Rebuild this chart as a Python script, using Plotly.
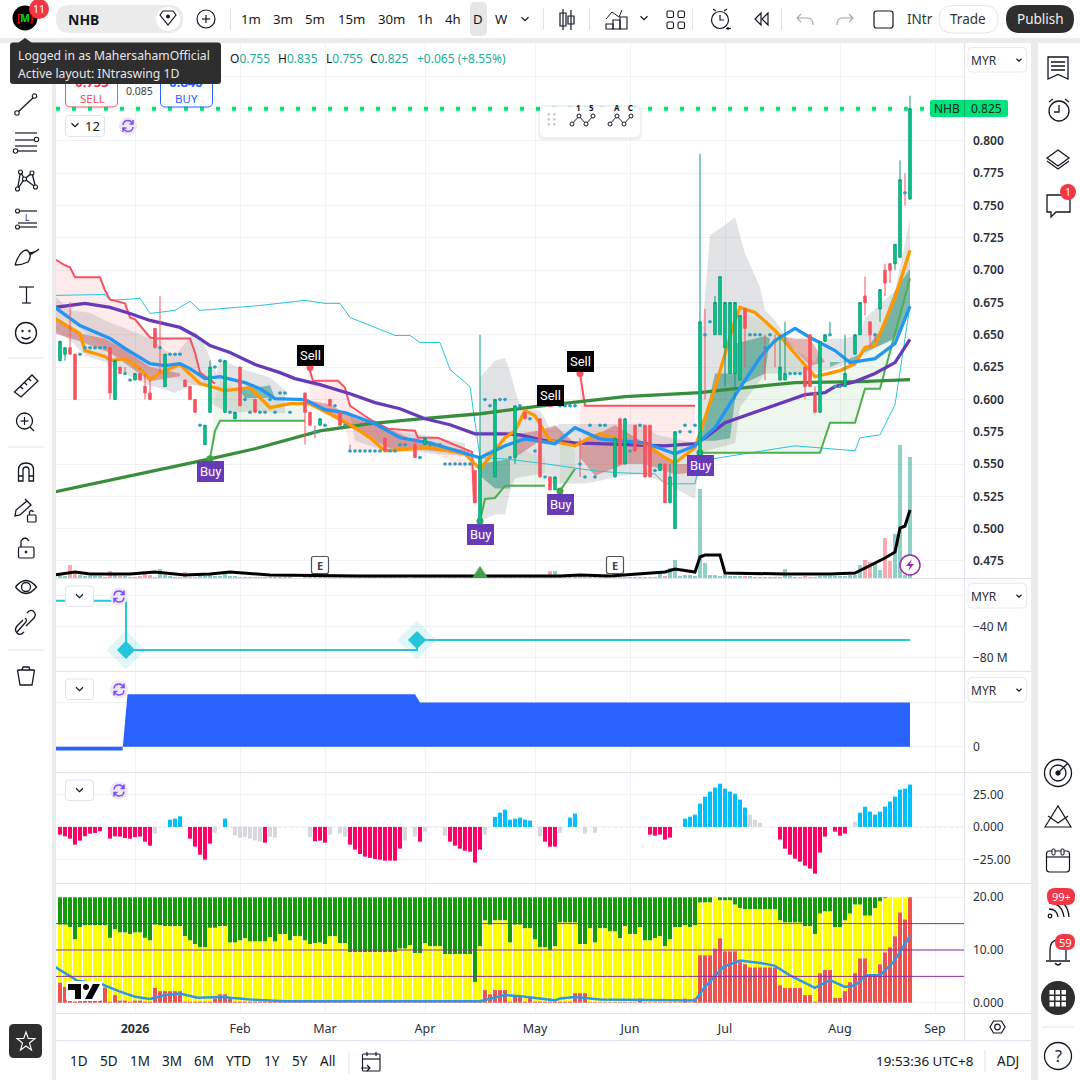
import plotly.graph_objects as go
N=None
# ---------- price bars ----------
opens=[.63,.635,.64,.635,.635,.64,.64,.64,.64,.64,
.64,.60,.625,.62,.615,.615,.62,.61,.605,.655,
.64,.61,.635,.635,.635,.615,.61,.60,.58,.565,
.59,.625,.63,.59,.59,.585,.625,.60,.59,.60,
.59,.59,.60,.59,.605,.605,.59,N,N,.605,
.59,.575,.58,.58,.60,.595,.59,.58,.56,.56,
.56,.56,.56,.56,.56,.57,.56,.56,.565,.565,
N,.565,.555,.565,.565,.565,.565,.55,.55,.55,
.55,.55,.55,.545,.50,.60,.595,.54,.60,.60,
.555,.555,.595,.59,.585,.56,.585,.54,.54,.53,
.595,.595,.595,.595,.55,.54,.58,.54,.58,.58,
N,.54,.585,.55,.56,.58,.58,.58,.58,.545,
.545,.55,.52,.50,.575,.58,.575,.58,.55,.65,
.66,.65,.65,.64,.62,.62,.615,.67,.65,.65,
.65,.64,.65,.645,.615,.615,.62,.62,.62,.625,
.65,.605,.59,.645,.65,.61,.61,.61,N,.635,
.65,.68,.66,.65,.67,.70,.705,.705,.71,.76,
.755]
highs=[.645,.64,.675,.635,.635,.64,.64,.64,.64,.64,
.64,.63,.625,.625,.615,.62,.62,.62,.615,.655,
.68,.635,.635,.635,.635,.615,.61,.60,.58,.58,
.63,.625,.63,.63,.59,.59,.625,.60,.59,.60,
.59,.59,.60,.59,.605,.605,.59,N,N,.605,
.59,.58,.585,.58,.60,.595,.59,.58,.565,.56,
.56,.56,.56,.56,.56,.57,.56,.56,.565,.565,
N,.57,.555,.57,.565,.565,.565,.55,.55,.55,
.55,.55,.55,.545,.65,.60,.595,.60,.60,.60,
.555,.595,.595,.59,.585,.56,.585,.54,.54,.54,
.595,.595,.595,.595,.57,.54,.58,.54,.58,.58,
N,.57,.585,.585,.56,.58,.58,.58,.58,.545,
.55,.55,.55,.575,.575,.58,.575,.58,.79,.67,
.66,.68,.695,.675,.675,.675,.665,.67,.65,.65,
.65,.65,.65,.65,.65,.66,.62,.62,.62,.625,
.65,.61,.645,.65,.66,.61,.61,.65,N,.65,
.675,.695,.66,.65,.685,.705,.705,.72,.785,.775,
.835]
lows=[.63,.63,.635,.60,.635,.64,.64,.64,.64,.64,
.60,.60,.62,.62,.615,.615,.615,.60,.60,.64,
.62,.61,.635,.635,.635,.61,.60,.59,.58,.565,
.59,.625,.63,.59,.59,.585,.595,.60,.59,.59,
.59,.59,.60,.59,.605,.605,.59,N,N,.565,
.58,.57,.58,.58,.595,.595,.58,.58,.56,.56,
.56,.56,.56,.56,.56,.56,.56,.56,.565,.565,
N,.555,.555,.565,.565,.565,.565,.55,.55,.55,
.55,.55,.55,.52,.50,.60,.595,.54,.60,.60,
.555,.55,.595,.585,.585,.56,.54,.54,.53,.53,
.595,.595,.595,.595,.54,.54,.58,.54,.58,.58,
N,.54,.55,.55,.56,.56,.58,.54,.54,.545,
.545,.52,.52,.50,.575,.58,.575,.58,.55,.60,
.66,.65,.65,.61,.62,.60,.615,.625,.65,.65,
.65,.615,.65,.625,.615,.615,.62,.62,.62,.60,
.61,.59,.59,.645,.65,.61,.61,.61,N,.635,
.65,.665,.64,.645,.66,.68,.69,.70,.71,.75,
.755]
closes=[.645,.64,.635,.60,.635,.64,.64,.64,.64,.64,
.605,.63,.62,.62,.615,.62,.615,.605,.60,.64,
.64,.635,.635,.635,.635,.61,.60,.59,.58,.58,
.625,.625,.63,.63,.59,.59,.595,.60,.59,.59,
.59,.59,.60,.59,.605,.605,.59,N,N,.59,
.58,.575,.585,.58,.595,.595,.58,.58,.56,.56,
.56,.56,.56,.56,.56,.56,.56,.56,.565,.565,
N,.555,.555,.57,.565,.565,.565,.55,.55,.55,
.55,.55,.55,.52,.555,.60,.595,.60,.60,.60,
.555,.595,.595,.585,.585,.56,.54,.54,.53,.54,
.595,.595,.595,.595,.55,.54,.58,.54,.58,.58,
N,.57,.55,.585,.56,.56,.58,.54,.54,.545,
.55,.52,.54,.575,.575,.58,.575,.58,.66,.65,
.66,.675,.695,.675,.675,.675,.665,.655,.65,.65,
.65,.64,.65,.645,.625,.62,.62,.62,.62,.61,
.61,.59,.645,.65,.65,.61,.61,.62,N,.65,
.675,.675,.65,.65,.685,.69,.70,.72,.77,.76,
.825]
volumes=[5,2,13,4,3,2,2,2,2,1,7,3,2,2,1,1,2,7,3,1,
9,3,2,1,1,6,1,1,2,2,5,2,2,4,2,2,1,1,1,1,
1,1,1,1,1,1,1,0,0,3,2,1,1,1,1,2,2,3,1,1,
1,1,1,1,1,1,1,1,1,1,0,1,1,1,1,1,1,1,1,1,
1,1,1,2,4,2,2,1,1,1,1,2,1,1,1,1,1,1,7,7,
1,2,1,2,1,1,1,1,1,1,0,1,1,1,1,1,1,1,1,1,
5,2,10,18,2,3,3,2,89,15,3,3,2,3,2,2,2,2,2,1,
1,1,1,1,1,9,2,1,1,2,1,1,2,2,2,2,2,2,3,3,
13,18,16,16,8,40,17,44,133,3,121]
accum_x=[-1,3,6,10,14,19,25,30,34,42,60,100,104,110,121,123,127,128,129,132,133,145,154,159,163,165,167,168,169,170]
accum_y=[3,6,4,4,4,6,3,4,6,3,2,2,3,2,6,9,6,21,23,23,5,4,4,5,15,20,26,50,52,68]
# ---------- moving averages and ribbons ----------
sma_slow_x=[-1,19,30,39,52,62,72,84,95,113,128,135,147,160,170]
sma_slow_y=[.5285,.5447,.554,.5618,.5757,.5812,.585,.5889,.5944,.6021,.6052,.6083,.613,.6138,.6153]
ma_purple_x=[-1,5,10,14,18,24,27,30,34,39,44,47,52,58,63,68,73,78,83,89,92,97,103,110,121,127,129,133,137,144,149,153,155,159,163,167,170]
ma_purple_y=[.6712,.6743,.6712,.6665,.6611,.6557,.6495,.6417,.6363,.627,.6207,.6161,.6114,.6044,.5975,.5928,.585,.5804,.5734,.5734,.5726,.568,.5664,.5657,.5641,.5657,.5703,.5819,.5874,.5967,.6037,.6052,.6099,.6138,.62,.6285,.6464]
ma_blue_x=[-1,4,10,13,18,21,24,26,29,32,37,40,43,49,53,57,63,68,74,78,84,89,93,99,103,108,117,123,127,131,135,140,143,147,150,155,158,163,167,170]
ma_blue_y=[.6712,.6572,.6471,.6394,.6277,.6262,.6277,.6238,.6161,.6176,.613,.6083,.6006,.5998,.592,.5897,.5812,.5703,.5664,.5618,.5548,.5641,.5695,.5657,.5781,.5695,.5664,.5579,.5641,.5781,.6029,.6324,.6456,.6549,.6479,.6378,.6285,.6316,.6432,.672]
ma_orange_x=[-1,4,5,9,10,13,16,18,20,24,28,33,38,42,46,50,54,59,62,65,70,74,81,84,89,91,93,95,98,103,106,108,113,117,121,123,127,131,135,136,139,143,147,150,151,156,159,161,163,167,170]
ma_orange_y=[.6627,.651,.6378,.6332,.63,.6316,.6238,.6153,.6207,.627,.6122,.6068,.6091,.5936,.5967,.5967,.5889,.5781,.5703,.5602,.5618,.5626,.5579,.5462,.5703,.5757,.5913,.5874,.568,.5641,.5703,.5734,.568,.5657,.5548,.5509,.5626,.6091,.6611,.6712,.6673,.6533,.6355,.6223,.6176,.6223,.6277,.6401,.6417,.6789,.7154]
stop_red_x=[-1,1,2,3,8,9,10,13,14,15,18,19,26,27,28,31,N,49.8,50.6,55.6,57,58,62.4,65.6,71,71.6,75.6,78.4,82.4,82.8,N,104,105,127]
stop_red_y=[.7084,.7038,.7022,.6945,.6945,.6844,.6774,.6743,.6634,.6619,.6479,.6471,.6471,.6363,.6207,.6122,N,.6246,.6145,.6145,.6091,.5951,.5835,.5773,.5757,.5703,.5703,.5657,.5594,.5199,N,.62,.5951,.5951]
stop_green_x=[30,31,32,49,N,84,85,87,89,97,N,100,103,N,128,152,154,159,161,164,170]
stop_green_y=[.554,.5757,.5835,.5835,N,.5059,.523,.5237,.5331,.5331,N,.5292,.5462,N,.5587,.5587,.5819,.5819,.6083,.6083,.6937]
channel_x=[-1,9,10,16,18,23,26,28,40,45,49,53,56,58,67,70,72,76,78,82,84,89,97,107,112,119,121,127,128,147,159,160,164,167,170]
channel_y=[.6805,.6812,.6766,.6782,.6665,.6689,.6759,.6689,.6727,.675,.6766,.6743,.6743,.6634,.6495,.6495,.644,.644,.6231,.6099,.5548,.554,.5502,.5447,.5432,.5424,.5347,.5347,.5525,.5641,.5602,.5703,.5726,.5959,.6727]
pink_x=[-1,1,2,3,8,9,10,13,14,15,18,19,26,27,28,31,28,20,18,13,9,4,-1,N,
49.8,50.6,55.6,57,58,62.4,65.6,71,71.6,75.6,78.4,82.4,82.8,82,78,74,66,59,58,57,52,50,N,
104,105,127,127,123,121,113,105,104]
pink_y=[.7084,.7038,.7022,.6945,.6945,.6844,.6774,.6743,.6634,.6619,.6479,.6471,.6471,.6363,.6207,.6122,.61,.62,.625,.63,.64,.655,.665,N,
.6246,.6145,.6145,.6091,.5951,.5835,.5773,.5757,.5703,.5703,.5657,.5594,.5199,.545,.552,.56,.56,.56,.562,.58,.595,.59,N,
.62,.5951,.5951,.56,.555,.555,.565,.565,.58]
mint_x=[30,32,49,49,40,32,31,N,84,85,87,89,97,97,89,85,N,100,103,103,100,N,
128,152,154,159,161,164,170,170,167,163,159,156,151,147,143,136,131]
mint_y=[.554,.5835,.5835,.60,.60,.615,.60,N,.5059,.523,.5237,.5331,.5331,.555,.565,.56,N,.5292,.5462,.56,.575,N,
.5587,.5587,.5819,.5819,.6083,.6083,.6937,.72,.68,.6417,.6277,.6223,.6176,.6355,.6533,.67,.61]
haze_x=[-1,2,6,9,13,18,21,23,27,29,31,32,29,26,23,18,14,9,5,2,-1,N,
32,36,42,45,45,39,34,30,N,
58,62,66,72,81,81,72,65,59,N,
84,87,89,90,91,92,96,97,98,100,110,117,119,127,128,127,121,117,112,108,105,98,97,91,90,89,87,84,N,
128,130,133,135,137,140,141,143,147,151,153,157,160,161,167,170,170,167,163,159,153,151,147,141,136,135,128]
haze_y=[.680,.669,.667,.661,.655,.647,.638,.634,.653,.642,.622,.616,.611,.611,.605,.611,.618,.629,.634,.646,.653,N,
.632,.624,.617,.607,.589,.591,.589,.597,N,
.589,.586,.576,.573,.566,.556,.559,.560,.568,N,
.617,.630,.632,.622,.607,.595,.591,.585,.577,.581,.581,.581,.573,.566,.560,.523,.535,.542,.541,.537,.535,.535,.543,.539,.529,.511,.511,.506,N,
.632,.727,.735,.741,.713,.687,.669,.661,.638,.629,.647,.647,.651,.663,.684,.739,.671,.648,.640,.629,.622,.620,.620,.620,.594,.566,.559]
teal_x=[84,90,90,87,84,N,128,131,135,135,134,131,N,135,141,142,141,135,N,154,159,161,164,167,170,170,167,163,154,N,36,42,43,37]
teal_y=[.550,.554,.531,.531,.541,N,.568,.620,.620,.600,.570,.568,N,.643,.649,.647,.620,.609,N,.629,.629,.638,.653,.684,.701,.671,.647,.640,.625,N,.607,.611,.601,.601]
rose_x=[-1,4,9,13,18,24,24,18,13,10,4,-1,N,49,54,59,66,71,82,82,72,66,62,57,50,N,91,96,99,103,96,91,N,104,111,117,123,127,126,123,117,113,107,104,N,144,147,150,153,150,147]
rose_y=[.661,.651,.647,.638,.625,.620,.618,.614,.628,.636,.645,.651,N,.600,.596,.585,.577,.568,.560,.558,.561,.562,.570,.581,.595,N,.573,.576,.580,.566,.568,.555,N,.566,.580,.566,.550,.550,.543,.542,.550,.550,.541,.555,N,.649,.647,.647,.629,.626,.638]
buy_labels_x=[30,84,100,128]
buy_labels_y=[.5439,.4958,.5183,.5486]
buy_dots_y=[.554,.5059,.5292,.5587]
sell_labels_x=[50,98,104]
sell_labels_y=[.6339,.6029,.6293]
sell_dots_y=[.6246,.5967,.62]
# ---------- lower panes ----------
flow_x=[-1,13.2,71.4,170]
flow_y=[-7.3,-70,-57.3,-57.3]
flow_mark_x=[13.2,71.4]
flow_mark_y=[-70,-57.3]
cap_x=[-1,12.5,13.5,71,72,170]
cap_y=[-5,-5,70,70,59,59]
momentum=[-5.9,-7.2,-9,-13.6,-10.5,-7.2,-5.1,-4.6,-3.3,0,
-9,-7.2,-7.4,-8.5,-9,-7.9,-7.4,-11.3,-14.4,-5.1,
0,0,5.6,6.4,8.2,0,-9,-15.1,-21.3,-25.1,
-12.8,-4.4,0,6.4,0,-6.4,-8.2,-7.7,-9,-10.3,
-11.3,-12.1,-7.4,-8.2,0,0,0,0,0,0,
-7.9,-11,-10.5,-12.1,-5.9,0,-4.9,-7.4,-13.6,-17.4,
-20.8,-22.8,-23.8,-24.6,-25.1,-25.9,-25.9,-25.9,-16.7,-10.3,
0,-7.4,-11.3,-3.6,0,0,0,-6.7,-11.3,-14.4,
-16.7,-18.2,-19,-27.4,-17.4,-5.9,0,7.7,11,13.3,
5.6,6.4,7.2,5.6,4.9,0,-7.2,-11.3,-15.1,-15.1,
-4.4,0,7.2,10.3,0,-5.1,0,-4.4,0,0,
0,0,0,0,0,0,0,0,-5.9,-6.7,
-5.9,-9.7,-8.2,0,0,6.4,7.9,9.5,18,23.3,
27.2,30.3,33.3,29.5,27.2,25.6,21,14.9,9.5,5.6,
3.3,0,0,0,-9.7,-16.7,-21.3,-24.4,-26.7,-29.7,
-32,-35.9,-19.7,-7.4,0,-3.6,-6.7,-5.1,0,4.1,
11,15.6,11.8,9.5,11.8,15.6,19.5,23.3,28.7,29.5,
32.6]
momentum_flat=[19,31,35,36,37,38,39,40,42,43,50,54,56,57,69,71,73,77,85,96,100,105,107,138,139,140,159]
stack_red=[3.8,3,1.9,.2,.5,.4,.4,.4,3,2.9,
.2,1.45,.4,.4,.2,.4,.4,.2,.2,2.8,
2.2,2.2,2.2,2.2,2.2,.2,.2,.2,.2,.2,
.2,.8,1.6,1.6,.8,.2,.2,.2,.2,.2,
.2,.2,.2,.2,.2,.2,.2,.2,.2,.2,
.2,.2,.2,.2,.2,.2,.2,.2,.2,.2,
.2,.2,.2,.2,.2,.2,.2,.2,.2,.2,
.2,.2,.2,.2,.2,.2,.2,.2,.2,.2,
.2,.2,.2,.2,.2,2.4,1.6,2.4,2.4,2.4,
.2,1.25,1.25,.2,1.1,.2,.2,.2,.2,.2,
.2,.2,.2,1.8,1.8,1.8,.1,.1,.1,.1,
.1,.1,.1,.1,.1,.1,.8,.1,.1,.1,
.1,.1,.1,.1,.1,.8,.1,.8,9,9,
9,10.25,12.2,9.75,9.75,9.75,7.7,7.3,6.7,6.7,
6.7,6.7,6.7,6.7,3.3,2.8,2.8,2.8,2.8,1.45,
1.45,.2,5.6,6.2,6.2,.9,.9,2.2,3.9,5.6,
8.4,8.4,5.2,5.2,7.3,9.55,10.5,12.6,17.1,15.8,
20]
stack_yellow_top=[14.8,14.8,14.3,12,14.3,14.65,14.65,14.65,14.65,14.65,
12.3,13.9,13.3,13.3,13,13.3,13.3,12.3,11.8,14.8,
14.65,14.5,14.5,14.5,14.5,12.6,11.8,11.1,10.5,10.5,
14.2,14.2,14.5,14.5,11.4,11.4,11.8,12.2,11.6,11.6,
11.6,11.6,12.4,11.6,13,13,11.8,12.6,12.6,11.8,
11.1,11.3,11.4,11.1,12.6,12.6,11.3,11.3,9.6,9.6,
9.6,9.6,9.6,9.6,9.6,9.6,9.6,9.6,10.25,10.25,
10.9,9.4,9.4,11.3,10.7,10.7,10.7,9.2,9.2,9.2,
9.2,9.2,9.2,3.9,10.7,15.6,14.8,15.6,15.6,15.6,
11.4,14.8,14.8,14.1,14.1,12,10.5,10.5,9.9,10.7,
15.2,15.2,15.2,15.2,11.1,11.1,14.1,11.4,14.1,14.1,
13.5,13.5,12.2,14.5,13,13,14.3,11.8,11.8,12.2,
12.6,10.7,12,14.3,14.3,14.65,14.3,14.65,19,19,
19,20,19.4,19.4,19.4,18.6,17.9,17.7,17.7,17.7,
17.7,17.7,17.7,17.7,15.6,15.2,15.2,15.2,15.2,14.5,
14.5,13,16.9,17.3,17.3,14.3,14.3,15.6,16.9,18.6,
18.6,16.5,16.5,17.9,19.2,19.8,20,20,20,20,
20]
stack_total=20
strength_x=[-1,2,3.5,8,12,15,18,21,24,27.5,32.5,38,45,84,89,92,95,99,100,103,108,127,129,132.7,136,140,143,146,151,154,157,159,161.3,164,166.7,170]
strength_y=[6.8,5,4.15,3.65,2.1,1.15,.7,1.45,1.75,.95,1.1,.6,.3,.3,1.45,1.25,.95,.45,.8,1.1,.6,.4,3,6.8,8,7.55,7,5.2,2.8,4.3,3,3.3,5.2,5.2,7.75,12.6]
# ---------- axis labels ----------
month_pos=[15,36,53,73,95,114,133,156,175]
month_labels=['<b>2026</b>','Feb','Mar','Apr','May','Jun','Jul','Aug','Sep']
price_ticks=[.475,.5,.525,.55,.575,.6,.625,.65,.675,.7,.725,.75,.775,.8,.825,.85]
price_labels=['0.475','0.500','0.525','0.550','0.575','0.600','0.625','0.650','0.675','0.700','0.725','0.750','0.775','0.800','','']

DARK='#131722'; FONT='Noto Sans'
idx=list(range(len(closes)))
live=[i for i in idx if closes[i] is not None]
doji=[i for i in live if opens[i]==closes[i]]

def dom(top,bottom): return [1-bottom/1080,1-top/1080]
def p(x,y): return x/1080,1-y/1080
shapes=[];ann=[]
def path(d,color=DARK,w=1.3,fill=None,layer='above'):
    out=[];isx=True
    for t in d.split():
        if t.isalpha(): out.append(t)
        else:
            out.append(str(float(t)/1080 if isx else 1-float(t)/1080)); isx=not isx
    shapes.append(dict(type='path',xref='paper',yref='paper',path=' '.join(out),line=dict(color=color,width=w) if w else dict(width=0),fillcolor=fill or 'rgba(0,0,0,0)',layer=layer))
def circ(cx,cy,r,color=DARK,w=1.3,fill=None):
    shapes.append(dict(type='circle',xref='paper',yref='paper',x0=(cx-r)/1080,x1=(cx+r)/1080,y0=1-(cy+r)/1080,y1=1-(cy-r)/1080,line=dict(color=color,width=w) if w else dict(width=0),fillcolor=fill or 'rgba(0,0,0,0)'))
def rrect(x0,y0,x1,y1,r,fill=None,color=None,w=1,layer='above'):
    d=f"M {x0+r} {y0} L {x1-r} {y0} Q {x1} {y0} {x1} {y0+r} L {x1} {y1-r} Q {x1} {y1} {x1-r} {y1} L {x0+r} {y1} Q {x0} {y1} {x0} {y1-r} L {x0} {y0+r} Q {x0} {y0} {x0+r} {y0} Z"
    path(d,color or 'rgba(0,0,0,0)',w if color else 0,fill,layer)
def T(x,y,s,size=13,color=DARK,anchor='center',family=FONT):
    px,py=p(x,y)
    ann.append(dict(xref='paper',yref='paper',x=px,y=py,text=s,showarrow=False,xanchor=anchor,yanchor='middle',font=dict(size=size,color=color,family=family),borderpad=0,borderwidth=0))
def chev(x,y,s=3.5,color=DARK,w=1.2): path(f"M {x-s} {y-s/2} L {x} {y+s/2} L {x+s} {y-s/2}",color,w)
def line(x0,y0,x1,y1,color=DARK,w=1.2): path(f"M {x0} {y0} L {x1} {y1}",color,w)
def sync(cx,cy):
    c='#7C4DFF'
    circ(cx,cy,9,'#EDE7F6',0,'#EDE7F6')
    path(f"M {cx-5} {cy-1} Q {cx-4.5} {cy-5.5} {cx} {cy-5.5} Q {cx+3} {cy-5.5} {cx+4.5} {cy-2.5} M {cx+5} {cy-6} L {cx+5} {cy-2} L {cx+1.5} {cy-2}",c,1.5)
    path(f"M {cx+5} {cy+1} Q {cx+4.5} {cy+5.5} {cx} {cy+5.5} Q {cx-3} {cy+5.5} {cx-4.5} {cy+2.5} M {cx-5} {cy+6} L {cx-5} {cy+2} L {cx-1.5} {cy+2}",c,1.5)

# panels
for r in [(0,0,1080,38),(0,43,52,1080),(964,43,1031,1040),(56,1013,1031,1080),(1038,43,1080,1080)]:
    shapes.append(dict(type='rect',xref='paper',yref='paper',x0=r[0]/1080,x1=r[2]/1080,y0=1-r[3]/1080,y1=1-r[1]/1080,fillcolor='white',line=dict(width=0),layer='below'))
# pane separators
for y in [578.5,671.5,772.5,883.5,1013.5,1040.5]:
    line(56,y,1031,y,'#E0E3EB',1.2)
line(964.5,43,964.5,1040,'#E0E3EB',1.2)
# last-price dotted line
shapes.append(dict(type='line',xref='x domain',yref='y',x0=0,x1=1,y0=closes[-1],y1=closes[-1],line=dict(color='#00E676',width=4,dash='4px,12px'),layer='above'))
# pane 5 guide lines
for v in [5,10,15]:
    shapes.append(dict(type='line',xref='x5 domain',yref='y5',x0=0,x1=1,y0=v,y1=v,line=dict(color='#882B9C',width=1),layer='above'))
shapes.append(dict(type='line',xref='x4 domain',yref='y4',x0=0,x1=1,y0=0,y1=0,line=dict(color='#D8DAE0',width=1,dash='3px,3px'),layer='below'))

fig=go.Figure()
SK=dict(hoverinfo='skip',showlegend=False)
def poly(x,y,color,ax=('x','y')):
    fig.add_trace(go.Scatter(x=x,y=y,mode='none',fill='toself',fillcolor=color,xaxis=ax[0],yaxis=ax[1],**SK))
def ln(x,y,color,w,ax=('x','y'),**kw):
    fig.add_trace(go.Scatter(x=x,y=y,mode='lines',line=dict(color=color,width=w,**kw),xaxis=ax[0],yaxis=ax[1],connectgaps=False,**SK))
poly(haze_x,haze_y,'rgba(110,115,120,0.20)')
poly(pink_x,pink_y,'rgba(247,82,95,0.11)')
poly(mint_x,mint_y,'rgba(76,175,80,0.10)')
poly(rose_x,rose_y,'rgba(190,50,50,0.38)')
poly(teal_x,teal_y,'rgba(8,130,110,0.45)')
ln(channel_x,channel_y,'#26C6DA',1)
ln(stop_red_x,stop_red_y,'#F7525F',2)
ln(stop_green_x,stop_green_y,'#4CAF50',2)
ln(sma_slow_x,sma_slow_y,'#388E3C',3.3)
ln(ma_purple_x,ma_purple_y,'#673AB7',3.3)
ln(ma_orange_x,ma_orange_y,'#FF9800',3.3)
ln(ma_blue_x,ma_blue_y,'#2196F3',3.3)
fig.add_trace(go.Scatter(x=buy_labels_x,y=buy_dots_y,mode='markers',marker=dict(color='#43A047',size=7),**SK))
fig.add_trace(go.Scatter(x=sell_labels_x,y=sell_dots_y,mode='markers',marker=dict(color='#F7525F',size=7),**SK))
# volume and accumulation (own scale)
vc=['rgba(247,82,95,0.5)' if (closes[i] is not None and closes[i]<opens[i]) else 'rgba(8,153,129,0.45)' for i in idx]
fig.add_trace(go.Bar(x=idx,y=volumes,width=0.8,marker=dict(color=vc,line=dict(width=0)),xaxis='x',yaxis='y6',**SK))
ln(accum_x,accum_y,'#000000',3,('x','y6'))
# candles (own overlay so they sit over the lines)
fig.add_trace(go.Candlestick(x=live,open=[opens[i] for i in live],high=[highs[i] for i in live],low=[lows[i] for i in live],close=[closes[i] for i in live],
    increasing=dict(line=dict(color='#089981',width=1),fillcolor='#00D27F'),decreasing=dict(line=dict(color='#F7525F',width=1),fillcolor='#F7525F'),
    whiskerwidth=0,xaxis='x',yaxis='y7',hoverinfo='skip',showlegend=False))
fig.add_trace(go.Scatter(x=doji,y=[closes[i] for i in doji],mode='markers',marker=dict(color='#2AA0C0',size=3.5),xaxis='x',yaxis='y7',**SK))
fig.add_trace(go.Scatter(x=[6.4,25.2],y=[.8442,.8442],mode='text',text=['0.755','0.840'],textfont=dict(color=['#F23645','#2962FF'],size=13,family=FONT,weight=700),xaxis='x',yaxis='y7',**SK))
# pane 2
fig.add_trace(go.Scatter(x=flow_mark_x,y=flow_mark_y,mode='markers',marker=dict(symbol='diamond',size=30,color='rgba(38,198,218,0.15)'),xaxis='x2',yaxis='y2',**SK))
ln(flow_x,flow_y,'#26C6DA',2,('x2','y2'),shape='hv')
fig.add_trace(go.Scatter(x=flow_mark_x,y=flow_mark_y,mode='markers',marker=dict(symbol='diamond',size=14,color='#26C6DA'),xaxis='x2',yaxis='y2',**SK))
# pane 3
fig.add_trace(go.Scatter(x=cap_x,y=cap_y,mode='lines',line=dict(width=0),fill='tozeroy',fillcolor='#2962FF',xaxis='x3',yaxis='y3',**SK))
# pane 4
mc=['#D6D8DC' if i in momentum_flat else ('#00BFFF' if momentum[i]>0 else '#FF0066') for i in idx]
fig.add_trace(go.Bar(x=idx,y=momentum,width=0.8,marker=dict(color=mc,line=dict(width=0)),xaxis='x4',yaxis='y4',**SK))
# pane 5
fig.add_trace(go.Bar(x=idx,y=[stack_total-v for v in stack_yellow_top],base=stack_yellow_top,width=0.8,marker=dict(color='#159A09',line=dict(width=0)),xaxis='x5',yaxis='y5',**SK))
fig.add_trace(go.Bar(x=idx,y=[stack_yellow_top[i]-stack_red[i] for i in idx],base=stack_red,width=0.8,marker=dict(color='#FFFF00',line=dict(width=0)),xaxis='x5',yaxis='y5',**SK))
fig.add_trace(go.Bar(x=idx,y=stack_red,base=0,width=0.8,marker=dict(color='#EF5350',line=dict(width=0)),xaxis='x5',yaxis='y5',**SK))
ln(strength_x,strength_y,'#2F96E8',2.5,('x5','y5'))

# data-anchored labels
for x,y in zip(buy_labels_x,buy_labels_y):
    ann.append(dict(xref='x',yref='y',x=x,y=y,text='Buy',showarrow=False,font=dict(color='white',size=13,family='Roboto'),bgcolor='#673AB7',borderpad=3,borderwidth=0))
for x,y in zip(sell_labels_x,sell_labels_y):
    ann.append(dict(xref='x',yref='y',x=x,y=y,text='Sell',showarrow=False,font=dict(color='white',size=13,family='Roboto'),bgcolor='#000000',borderpad=3,borderwidth=0))

# chart overlays
for xx in (320,615):
    rrect(311.5 if xx==320 else 606.5,556.5,328.5 if xx==320 else 623.5,573.5,2,'white','#555',1.2)
    T(xx,565,'<b>E</b>',11,'#444')
path("M 472 578 L 480 566 L 488 578 Z",'#43A047',0,'#43A047')
circ(910,565,10,'#9C27B0',1.5,'white')
path("M 912 559 L 906 566 L 910 566 L 908 571 L 914 564 L 910 564 Z",'#9C27B0',0,'#9C27B0')
# tv logo
rrect(66,981,102,1001,2,'white')
path("M 68 984 L 81 984 L 81 999 L 75 999 L 75 990 L 68 990 Z",'#000',0,'#000')
circ(86,987,3,'#000',0,'#000')
path("M 93 984 L 100 984 L 92 999 L 85 999 Z",'#000',0,'#000')
# price tag
rrect(930,100,966,117,2,'#00E37C')
rrect(964,100,1008,117,2,'#00E37C')
line(964.5,100,964.5,117,'#10B060',1)
T(947,108.5,'NHB',12,'#0A2A1A')
T(986,108.5,'0.825',12,'#0A2A1A')
# pane controls
rrect(65.5,115.5,104.5,136.5,3,'white','#E0E3EB')
chev(75,125); T(92,126,'12',13)
sync(128,126)
for yy in (596.5,689.5,790.5):
    rrect(65.5,yy-10.5,93.5,yy+10,3,'white','#E0E3EB')
    chev(79.5,yy-.5)
    sync(119,yy)
for y0 in (47.5,583.5,677.5):
    rrect(968,y0,1026.5,y0+24.5,4,'white','#E8EAEE')
    T(971,y0+12.5,'MYR',12,'#2A2E39','left')
    chev(1019,y0+12.5,2.5)
# hexagon
path("M 990 1027 L 993.5 1021 L 1001.5 1021 L 1005 1027 L 1001.5 1033 L 993.5 1033 Z",DARK,1.2)
circ(997.5,1027,2.8,DARK,1.2)
# floating drawing bar
rrect(538,105,642,140,6,'rgba(0,0,0,0.06)')
rrect(540,107,640,137,6,'white')
for dx in (547.5,553):
    for dy in (113,118,123):
        rrect(dx,dy,dx+2.5,dy+2.5,.5,'#C9CCD4')
for x0,lab in ((572,'1&nbsp;&nbsp;&nbsp;&nbsp;5'),(610,'A&nbsp;&nbsp;&nbsp;&nbsp;C')):
    path(f"M {x0} 124 L {x0+7} 116 L {x0+14} 124 L {x0+21} 116",DARK,1)
    for k,(ax,ay) in enumerate(((0,124),(7,116),(14,124),(21,116))):
        circ(x0+ax,ay,2,DARK,1,'white')
    T(x0+13,108,'<b>'+lab+'</b>',8,DARK)
# OHLC
V='#22AB94'
for x,l,v in ((230,'O','0.755'),(278,'H','0.835'),(325.5,'L','0.755'),(370,'C','0.825')):
    T(x,59,f'{l}<span style="color:{V}">{v}</span>',12,DARK,'left')
T(417,59,'+0.065 (+8.55%)',12,V,'left')
# quick trade boxes
rrect(65.5,75,117.5,107,5,None,'#F7525F')
rrect(160.5,75,212.5,107,5,None,'#2962FF')
T(92,98.5,'SELL',11.5,'#F7525F'); T(186,98.5,'BUY',11.5,'#2962FF'); T(139,91,'0.085',10.5,'#444')
# tooltip
rrect(10,42.5,221,84,3,'#2E2E2E')
path("M 18 43 L 25 38 L 32 43 Z",'#2E2E2E',0,'#2E2E2E')
T(18,55,'Logged in as MahersahamOfficial',12.2,'#E6E6E6','left'); T(18,73.5,'Active layout: INtraswing 1D',12.2,'#E6E6E6','left')
# header
circ(25,18,12.5,'#000',0,'#000')
T(25,18,'<span style="color:#F00"><b>[</b></span><b>M</b><span style="color:#F00"><b>]</b></span>',10,'#00E000')
circ(39,9,10,'#F23645',0,'#F23645'); T(39,9,'11',10.5,'white')
rrect(56,5,183,33,14,'#EBEBEB')
T(68,19,'<b>NHB</b>',14,DARK,'left')
circ(168,19,12,'white',0,'white')
path("M 160 15 L 163 11 L 173 11 L 176 15 L 168 25 Z",DARK,1.2); circ(168,16.5,2,DARK,0,DARK)
circ(206,19,9,DARK,1.2); line(202,19,210,19); line(206,15,206,23)
line(230.5,8,230.5,30,'#E0E3EB',1)
rrect(470,2,487,36,5,'#E6E6E6')
for x,s in ((251,'1m'),(283,'3m'),(315,'5m'),(351,'15m'),(391,'30m'),(425,'1h'),(453,'4h'),(478,'D'),(501,'W')):
    T(x,19,s,13.2,'#131722')
chev(525,19)
for x in (543,589,692,781): line(x+.5,8,x+.5,30,'#E0E3EB',1)
# candle icon
line(563,9,563,30); rrect(560,13,566,26,0,None,DARK,1.2); line(571,10,571,30); rrect(568,16,574,24,0,None,DARK,1.2)
# chart-type icon
path("M 606 19 L 612 12 L 619 17 L 622 10",DARK,1)
for a,b,c in ((606,613,24),(613,620,20),(620,627,17)):
    rrect(a,c,b,29,0,None,DARK,1.1)
chev(644,18,3.5)
for a in (667,678):
    for b in (11,22):
        rrect(a,b,a+6.5,b+6.5,1.5,None,DARK,1.1)
# alarm icon
circ(720,20,8.5,DARK,1.2); path("M 720 15 L 720 20 L 724 20",DARK,1.2); line(713,9,716,11); line(727,9,724,11); line(728,27,728,30); line(726,28.5,731,28.5)
path("M 761 13 L 755 19 L 761 25 Z",DARK,1.2); path("M 768 13 L 762 19 L 768 25 Z",DARK,1.2)
path("M 801 14 L 797 18 L 801 22 M 797 18 L 808 18 Q 813 18 813 25",'#A0A3AA',1.1)
path("M 849 14 L 853 18 L 849 22 M 853 18 L 842 18 Q 837 18 837 25",'#A0A3AA',1.1)
rrect(874,11,893,28,2.5,None,DARK,1.2)
T(907,19,'INtr',13.5,'#333','left')
rrect(939,5.5,998,33,13.5,'white','#E6E6E6')
T(968,19,'Trade',13.5,'#333')
rrect(1006,5,1074,33,14,'#2E2E2E')
T(1040,19,'Publish',13.5,'#F0F0F0')
# left tools
path("M 17.5 112.5 L 34.5 96.5"); circ(17,113,2.2,DARK,1.1,'white'); circ(34.5,96,2.2,DARK,1.1,'white')
for a,b,c in ((133,15,37),(140,15,34),(146,15,37),(151,18,37)): line(b,a,c,a)
circ(36.5,139.5,2.2,DARK,1.1,'white'); circ(15.5,151,2.2,DARK,1.1,'white')
path("M 17.5 189 L 20.5 172 L 24.5 179 L 32 173 L 35.5 187 L 24.5 179 L 17.5 189"); 
for a,b in ((17.5,189),(20.5,172),(24.5,179),(32,173),(35.5,187)): circ(a,b,2,DARK,1.1,'white')
line(17,211,37,211); line(18,223,37,223); line(17,227,37,227); circ(17.5,211,2,DARK,1.1,'white'); circ(17.5,227,2,DARK,1.1,'white'); T(27,217,'L',8)
path("M 15 265 Q 20 250 27 250 Q 33 255 28 262 Q 22 265 15 265 M 29 253 Q 35 253 39 249 M 34 252 Q 32 255 29 254")
line(19,287,34,287); line(26.5,287,26.5,303); line(22,303,31,303)
circ(26,333,10.5); circ(22.5,331,.8,DARK,1,DARK); circ(29.5,331,.8,DARK,1,DARK); path("M 21.5 337 Q 26 341 30.5 337")
line(8,358,44,358,'#E0E3EB',1)
path("M 14.5 392 L 32 375 L 38 381 L 21 397 Z M 20 386 L 23 389 M 24 382 L 27 385 M 28 378 L 31 381")
circ(24.5,421,8); line(20.5,421,28.5,421); line(24.5,417,24.5,425); line(30,427,34,431)
line(8,447,44,447,'#E0E3EB',1)
path("M 18.5 481 L 18.5 470 Q 18.5 463 26 463 Q 33.5 463 33.5 470 L 33.5 481 L 29 481 L 29 470 Q 29 467 26 467 Q 23 467 23 470 L 23 481 Z M 18.5 476 L 23 476 M 29 476 L 33.5 476")
path("M 15 516 L 16 510 L 27 501 L 31 505 L 20 515 Z M 27 501 L 25 499"); rrect(27.5,515,36,522,1,None,DARK,1.2); path("M 29.5 515 L 29.5 512 Q 31.5 509 33.5 512")
rrect(18.5,547,34,558,1.5,None,DARK,1.2); path("M 21 547 L 21 541 Q 25 535 29 541"); circ(26,552,1,DARK,1,DARK)
path("M 15.5 587 Q 26 574 36.5 587 Q 26 600 15.5 587"); circ(26,587,4.5)
path("M 17 632 L 25 623 Q 28 620 25 618 M 26 626 L 34 618 Q 37 614 33 611 Q 30 609 27 613 M 23 620 L 17 626 Q 14 630 17 633 Q 20 636 24 632")
line(8,650,44,650,'#E0E3EB',1)
path("M 17.5 670 L 20 685 L 32 685 L 34.5 670 M 17.5 670 L 34.5 670 M 22 670 L 23 667 L 29 667 L 30 670")
rrect(9,1024,42,1058,5,'#2E2E2E')
path("M 26 1032 L 28.3 1038.5 L 35 1038.5 L 29.5 1043 L 31.5 1050 L 26 1046 L 20.5 1050 L 22.5 1043 L 17 1038.5 L 23.7 1038.5 Z",'white',1.1)
# right tools
path("M 1048 57 L 1068 57 L 1068 79 L 1058 74.5 L 1048 79 Z M 1051 62 L 1065 62 M 1051 66 L 1065 66 M 1051 70 L 1065 70")
circ(1059,111,10); path("M 1059 105 L 1059 112 L 1054 112"); line(1049,102,1053,99); line(1069,102,1065,99)
path("M 1058 150 L 1069 158 L 1058 166 L 1047 158 Z M 1047 161 L 1058 169 L 1069 161")
path("M 1047 195 L 1070 195 L 1070 212 L 1056 212 L 1051 217 L 1051 212 L 1047 212 Z")
circ(1068,192,8,'#F23645',0,'#F23645'); T(1068,192,'1',10.5,'white')
circ(1058,773,13.5); circ(1058,773,8); circ(1058,773,2.2,DARK,1,DARK); line(1058,773,1068,763)
path("M 1045 827 L 1058 806 L 1071 827 Z M 1048 816 L 1058 823 L 1068 816",DARK,1.2,'white')
rrect(1046.5,851,1069.5,872,3,None,DARK,1.2); line(1047,857,1069,857); rrect(1052,849,1055,855,1,'white',DARK,1); rrect(1061,849,1064,855,1,'white',DARK,1)
circ(1050,916,1.8); path("M 1049 909 Q 1057 909 1058 917 M 1049 903 Q 1062 903 1064 917 M 1052 898 Q 1068 901 1069 917")
rrect(1047,888,1075,905,8,'#F23645'); T(1061,896,'99+',11,'white')
path("M 1050 960 L 1050 950 Q 1050 940 1058 940 Q 1066 940 1066 950 L 1066 960 M 1046 961 L 1070 961 M 1055 963 Q 1058 967 1061 963")
rrect(1055,934,1075,950,8,'#F23645'); T(1065,942,'59',11,'white')
circ(1058,998,17,'#2E2E2E',0,'#2E2E2E')
for a in (1049,1055,1061):
    for b in (990,996,1002):
        rrect(a+.5,b,a+5,b+4.5,.5,'white')
line(1042,1027,1074,1027,'#E0E3EB',1)
circ(1058,1056,13.5); T(1058,1056,'?',16,DARK)
# bottom bar
for x,s in ((79,'1D'),(109,'5D'),(140,'1M'),(172,'3M'),(204,'6M'),(238,'YTD'),(272,'1Y'),(300,'5Y'),(328,'All')):
    T(x,1061,s,13.5,'#131722')
line(349,1052,349,1074,'#E0E3EB',1)
rrect(362.5,1054,380,1071,1,None,DARK,1.1); line(362,1059,380,1059); line(367,1052,367,1056); line(376,1052,376,1056)
path("M 361 1068 L 370 1068 M 367 1065 L 370 1068 L 367 1071",DARK,1.1)
T(973,1061,'19:53:36 UTC+8',13.4,'#131722','right')
line(985,1050,985,1072,'#E0E3EB',1)
T(1008,1061,'ADJ',13.5,'#131722')

GRID='#F0F2F5'
xbase=dict(range=[-0.8,180.8],domain=[56/1080,964/1080],tickmode='array',tickvals=month_pos,showgrid=True,gridcolor=GRID,gridwidth=1,zeroline=False,showline=False,ticks='',fixedrange=True)
ybase=dict(side='right',showgrid=True,gridcolor=GRID,gridwidth=1,zeroline=False,showline=False,ticks='',fixedrange=True,tickfont=dict(size=12,color='#2A2E39',family=FONT),ticklabelstandoff=8,tickmode='array')
lay=dict(width=1080,height=1080,margin=dict(l=0,r=0,t=0,b=0),paper_bgcolor='#EBEBEB',plot_bgcolor='white',barmode='overlay',showlegend=False,
    font=dict(family=FONT),shapes=shapes,annotations=ann,hovermode=False,dragmode=False)
for n,a in enumerate(('x','x2','x3','x4','x5'),1):
    k='xaxis' if n==1 else f'xaxis{n}'
    lay[k]=dict(xbase,anchor='y' if n==1 else f'y{n}',showticklabels=(n==5))
lay['xaxis'].update(rangeslider=dict(visible=False))
lay['xaxis5'].update(ticktext=month_labels,tickfont=dict(size=12.5,color='#2A2E39',family=FONT),ticklabelstandoff=6)
pr=[.4618,.8758]
lay['yaxis']=dict(ybase,domain=dom(43,578),range=pr,anchor='x',tickvals=price_ticks,ticktext=price_labels,tickfont=dict(size=12,color='#2A2E39',family=FONT,weight=600))
lay['yaxis6']=dict(overlaying='y',range=[0,535],visible=False,anchor='x',fixedrange=True)
lay['yaxis7']=dict(overlaying='y',range=pr,visible=False,anchor='x',fixedrange=True)
lay['yaxis2']=dict(ybase,domain=dom(579,671),range=[-96.8,20.4],anchor='x2',tickvals=[0,-40,-80],ticktext=['','−40 M','−80 M'])
lay['yaxis3']=dict(ybase,domain=dom(672,772),range=[-33.7,99.6],anchor='x3',tickvals=[0,59.6],ticktext=['0',''])
lay['yaxis4']=dict(ybase,domain=dom(773,883),range=[-43.1,41.5],anchor='x4',tickvals=[25,0,-25],ticktext=['25.00','0.000','−25.00'])
lay['yaxis5']=dict(ybase,domain=dom(884,1013),range=[-1.95,22.52],anchor='x5',tickvals=[0,10,20],ticktext=['0.000','10.00','20.00'])
fig.update_layout(**lay)
fig.write_html("out.html",config=dict(displayModeBar=False,staticPlot=True),post_script="document.body.style.margin='0';document.documentElement.style.overflow='hidden';")
